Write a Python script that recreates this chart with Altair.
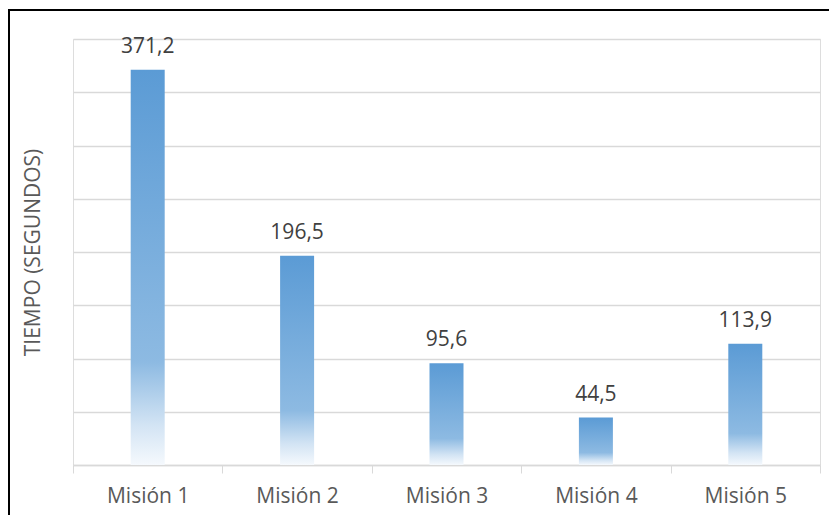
import altair as alt
import pandas as pd

categories = ["Misión 1", "Misión 2", "Misión 3", "Misión 4", "Misión 5"]
values = [371.2, 196.5, 95.6, 44.5, 113.9]
labels = ["371,2", "196,5", "95,6", "44,5", "113,9"]
grid_values = [0, 50, 100, 150, 200, 250, 300, 350, 400]

df = pd.DataFrame({"cat": categories, "val": values, "lab": labels})

FONT = "Open Sans"
W, H = 747, 426
PL, PT, PR, PB = 65, 31, 9, 50

grad = alt.Gradient(
    gradient="linear",
    stops=[
        alt.GradientStop(color="#5B9BD5", offset=0),
        alt.GradientStop(color="#8DBAE2", offset=0.74),
        alt.GradientStop(color="#D3E4F4", offset=0.9),
        alt.GradientStop(color="#F5F9FD", offset=1),
    ],
    x1=0, x2=0, y1=0, y2=1,
)

x_enc = alt.X(
    "cat:N", sort=categories, title=None,
    scale=alt.Scale(paddingInner=0, paddingOuter=0),
    axis=alt.Axis(labelAngle=0, labelFont=FONT, labelFontSize=21, labelColor="#595959",
                  labelPadding=12, tickBand="extent", tickSize=8, tickColor="#D9D9D9",
                  domainColor="#D9D9D9", domainWidth=1.5, grid=False),
)
y_enc = alt.Y(
    "val:Q", title="TIEMPO (SEGUNDOS)",
    scale=alt.Scale(domain=[0, 400], nice=False),
    axis=alt.Axis(values=grid_values, labels=False, ticks=False, domain=False,
                  gridColor="#D9D9D9", gridWidth=1.5, titleFont=FONT, titleFontSize=21,
                  titleColor="#595959", titleFontWeight="normal", titlePadding=30),
)

bars = alt.Chart(df).mark_bar(size=34, color=grad).encode(x=x_enc, y=y_enc)
text = alt.Chart(df).mark_text(dy=-17, baseline="alphabetic", font=FONT, fontSize=21,
                               color="#404040").encode(x=alt.X("cat:N", sort=categories),
                                                       y="val:Q", text="lab:N")

frame_left = alt.Chart(df).mark_rule(color="black", strokeWidth=2, clip=False).encode(
    x=alt.value(-PL + 1), y=alt.value(-PT + 2), y2=alt.value(H + PB))
frame_top = alt.Chart(df).mark_rule(color="black", strokeWidth=2, clip=False).encode(
    y=alt.value(-PT + 2), x=alt.value(-PL), x2=alt.value(W + PR))

chart = alt.layer(bars, text, frame_left, frame_top).properties(
    width=W, height=H,
    autosize=alt.AutoSizeParams(type="none"),
    padding={"left": PL, "top": PT, "right": PR, "bottom": PB},
).configure_view(stroke=None).configure(background="white")

chart.save("out.html", embed_options={"renderer": "svg", "actions": False})
